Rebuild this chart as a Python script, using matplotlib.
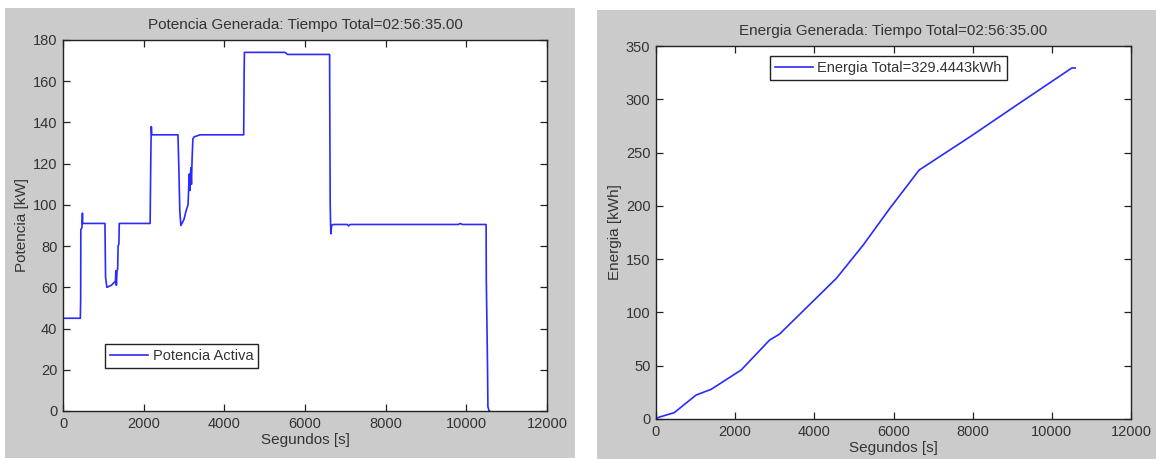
import matplotlib
matplotlib.use("Agg")
import matplotlib.pyplot as plt
from matplotlib.patches import Rectangle

# ---- data ----
power_t = [0, 430, 438, 442, 470, 482, 486, 500, 1040, 1055,
           1088, 1200, 1300, 1310, 1323, 1340, 1356, 1366, 1385, 1395,
           1407, 2160, 2172, 2182, 2190, 2200, 2850, 2870, 2896, 2922,
           3000, 3050, 3100, 3130, 3150, 3170, 3185, 3200, 3220, 3250,
           3400, 4480, 4490, 4498, 5500, 5540, 5560, 6580, 6610, 6615,
           6625, 6640, 6660, 6700, 7050, 7080, 7120, 9800, 9850, 9900,
           10490, 10495, 10525, 10535, 10565, 10570]
power_p = [45, 45, 55, 88, 89, 96, 91, 91, 91, 65,
           60, 61, 63, 68, 61, 68, 69, 80, 81, 91,
           91, 91, 114, 130, 138, 134, 134, 120, 97, 90,
           93, 97, 100, 115, 107, 118, 110, 122, 132, 133,
           134, 134, 163, 174, 174, 173.5, 173, 173, 173, 143,
           100, 86, 90, 90.5, 90.5, 89.8, 90.5, 90.5, 91, 90.5,
           90.5, 64, 22, 2, 0, 0]

energy_t = [0, 60, 463, 1013, 1392, 2152, 2868, 3122, 4557, 5230, 5906, 6648, 7932,
            9114, 10506, 10590]
energy_e = [0, 1.5, 6.0, 22.5, 27.8, 46, 74, 79.7, 132, 163, 197.6, 233.6, 264.8,
            294.6, 329.4, 329.4]

x_ticks = [0, 2000, 4000, 6000, 8000, 10000, 12000]
power_ticks = [0, 20, 40, 60, 80, 100, 120, 140, 160, 180]
energy_ticks = [0, 50, 100, 150, 200, 250, 300, 350]

title_power = "Potencia Generada: Tiempo Total=02:56:35.00"
title_energy = "Energia Generada: Tiempo Total=02:56:35.00"
label_power = "Potencia Activa"
label_energy = "Energia Total=329.4443kWh"

# ---- style ----
plt.rcParams['font.family'] = ['Liberation Sans', 'DejaVu Sans']
txt = '#333333'
gray = '#cbcbcb'
blue = '#2a2aff'

W, H = 1156, 459
fig = plt.figure(figsize=(W / 100, H / 100), dpi=100)
fig.patch.set_facecolor('white')

def px_rect(x0, y0, x1, y1):
    return (x0 / W, 1 - y1 / H, (x1 - x0) / W, (y1 - y0) / H)

for (x0, y0, x1, y1) in [(5, 8, 575, 458), (597, 10, 1156, 459)]:
    l, b, w, h = px_rect(x0, y0, x1, y1)
    fig.patches.append(Rectangle((l, b), w, h, transform=fig.transFigure,
                                 facecolor=gray, edgecolor='none', zorder=-10))

ax1 = fig.add_axes(px_rect(63, 40, 547, 411))
ax2 = fig.add_axes(px_rect(656, 46, 1131, 419))
ax1.set_zorder(5)
ax2.set_zorder(5)

def style(ax):
    ax.set_facecolor('white')
    ax.tick_params(direction='in', top=True, right=True, length=5, width=0.9,
                   labelsize=10.5, colors='#222222', labelcolor=txt, pad=4)
    for s in ax.spines.values():
        s.set_linewidth(1.0)
        s.set_color('#222222')

ax1.plot(power_t, power_p, color=blue, lw=1.2, label=label_power)
ax1.set_xlim(0, 12000)
ax1.set_ylim(0, 180)
ax1.set_xticks(x_ticks)
ax1.set_yticks(power_ticks)
style(ax1)
ax1.set_title(title_power, fontsize=11, color=txt, pad=8)
ax1.set_xlabel("Segundos [s]", fontsize=11, color=txt, labelpad=2)
ax1.set_ylabel("Potencia [kW]", fontsize=11, color=txt, labelpad=3)
leg1 = ax1.legend(loc='lower left', bbox_to_anchor=(0.087, 0.116), fontsize=10.5,
                  fancybox=False, framealpha=1, edgecolor='#222222', handlelength=2.6,
                  borderpad=0.35, handletextpad=0.3, borderaxespad=0)
leg1.get_frame().set_linewidth(1.0)
for t in leg1.get_texts():
    t.set_color(txt)

ax2.plot(energy_t, energy_e, color=blue, lw=1.2, label=label_energy)
ax2.set_xlim(0, 12000)
ax2.set_ylim(0, 350)
ax2.set_xticks(x_ticks)
ax2.set_yticks(energy_ticks)
style(ax2)
ax2.set_title(title_energy, fontsize=11, color=txt, pad=8)
ax2.set_xlabel("Segundos [s]", fontsize=11, color=txt, labelpad=2)
ax2.set_ylabel("Energia [kWh]", fontsize=11, color=txt, labelpad=3)
leg2 = ax2.legend(loc='upper left', bbox_to_anchor=(0.24, 0.973), fontsize=10.5,
                  fancybox=False, framealpha=1, edgecolor='#222222', handlelength=2.6,
                  borderpad=0.35, handletextpad=0.3, borderaxespad=0)
leg2.get_frame().set_linewidth(1.0)
for t in leg2.get_texts():
    t.set_color(txt)

fig.savefig("out.png", dpi=100, facecolor=fig.get_facecolor())
